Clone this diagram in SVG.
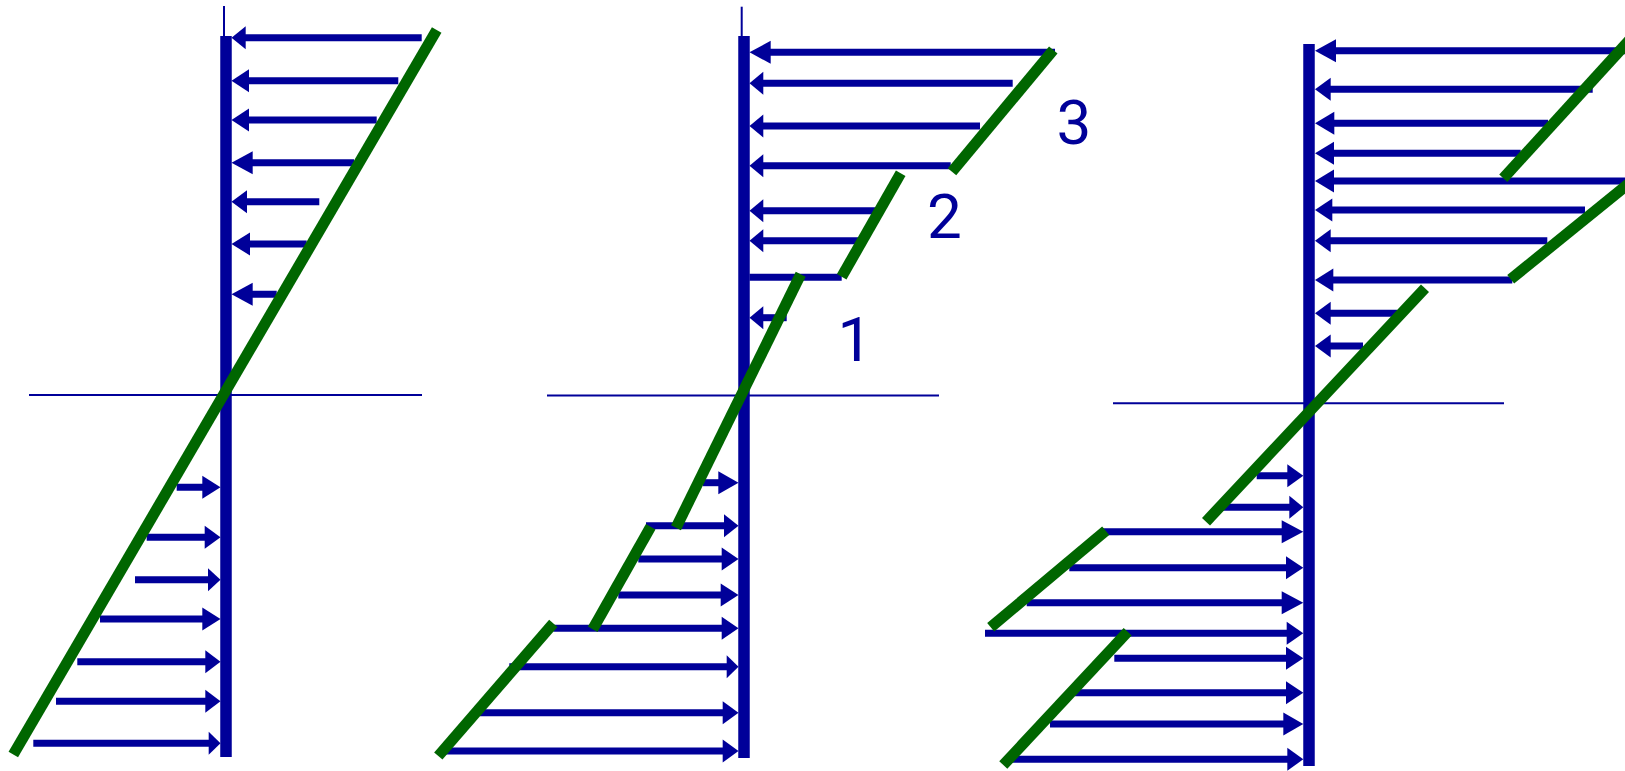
<svg xmlns="http://www.w3.org/2000/svg" width="1625" height="771" viewBox="0 0 1625 771">
<style>
.axis{stroke:#000099;stroke-width:2;fill:none}
.bar{stroke:#000099;stroke-width:11.5;fill:none}
.shaft{stroke:#000099;stroke-width:7;fill:none}
.head{fill:#000099;stroke:none}
.soil{stroke:#006600;stroke-width:11;fill:none}
.lbl{font-family:Roboto,"Open Sans",sans-serif;font-size:62px;fill:#000099;text-anchor:middle}
</style>
<rect width="1625" height="771" fill="#ffffff"/>

<g id="panel1">
  <line class="axis" x1="224" y1="6" x2="224" y2="36"/>
  <line class="axis" x1="29" y1="395" x2="422" y2="395"/>
  <line class="bar" x1="226" y1="36" x2="226" y2="757"/>
  <g id="p1-arrows">
    <line class="shaft" x1="240" y1="37.7" x2="421.7" y2="37.7"/><polygon class="head" points="231.5,37.7 245.7,26.2 245.7,49.2"/>
    <line class="shaft" x1="240" y1="80.7" x2="398.3" y2="80.7"/><polygon class="head" points="231.5,80.7 249,69.2 249,92.2"/>
    <line class="shaft" x1="240" y1="120" x2="376.7" y2="120"/><polygon class="head" points="231.5,120 249,108.5 249,131.5"/>
    <line class="shaft" x1="240" y1="162.7" x2="354" y2="162.7"/><polygon class="head" points="231.5,162.7 252.7,151.2 252.7,174.2"/>
    <line class="shaft" x1="240" y1="201.7" x2="319.3" y2="201.7"/><polygon class="head" points="231.5,201.7 247,190.2 247,213.2"/>
    <line class="shaft" x1="240" y1="244" x2="306.7" y2="244"/><polygon class="head" points="231.5,244 250,232.5 250,255.5"/>
    <line class="shaft" x1="240" y1="294.3" x2="276.7" y2="294.3"/><polygon class="head" points="231.5,294.3 252.7,282.8 252.7,305.8"/>

    <line class="shaft" x1="176.7" y1="487.3" x2="210" y2="487.3"/><polygon class="head" points="220.5,487.3 202.3,475.8 202.3,498.8"/>
    <line class="shaft" x1="146.7" y1="537.3" x2="210" y2="537.3"/><polygon class="head" points="220.5,537.3 204.7,525.8 204.7,548.8"/>
    <line class="shaft" x1="135" y1="579.7" x2="210" y2="579.7"/><polygon class="head" points="220.5,579.7 208,568.2 208,591.2"/>
    <line class="shaft" x1="100" y1="619" x2="210" y2="619"/><polygon class="head" points="220.5,619 202.3,607.5 202.3,630.5"/>
    <line class="shaft" x1="77.3" y1="661.7" x2="210" y2="661.7"/><polygon class="head" points="220.5,661.7 205.3,650.2 205.3,673.2"/>
    <line class="shaft" x1="56" y1="701.3" x2="210" y2="701.3"/><polygon class="head" points="220.5,701.3 205.3,689.8 205.3,712.8"/>
    <line class="shaft" x1="33.3" y1="743.3" x2="210" y2="743.3"/><polygon class="head" points="220.5,743.3 208.7,731.8 208.7,754.8"/>
  </g>
  <line class="soil" x1="13.3" y1="754.5" x2="436.7" y2="30"/>
</g>

<g id="panel2">
  <line class="axis" x1="741.7" y1="6.7" x2="741.7" y2="36"/>
  <line class="axis" x1="547" y1="395.5" x2="939" y2="395.5"/>
  <line class="bar" x1="744" y1="36" x2="744" y2="758"/>
  <g id="p2-arrows">
    <line class="shaft" x1="758" y1="52.3" x2="1055" y2="52.3"/><polygon class="head" points="749.5,52.3 770.7,40.8 770.7,63.8"/>
    <line class="shaft" x1="758" y1="83.3" x2="1012.7" y2="83.3"/><polygon class="head" points="749.5,83.3 763.3,71.8 763.3,94.8"/>
    <line class="shaft" x1="758" y1="126" x2="980" y2="126"/><polygon class="head" points="749.5,126 763.3,114.5 763.3,137.5"/>
    <line class="shaft" x1="758" y1="165.7" x2="950.7" y2="165.7"/><polygon class="head" points="749.5,165.7 763.3,154.2 763.3,177.2"/>
    <line class="shaft" x1="758" y1="210.7" x2="875" y2="210.7"/><polygon class="head" points="749.5,210.7 763.3,199.2 763.3,222.2"/>
    <line class="shaft" x1="758" y1="240.7" x2="859.3" y2="240.7"/><polygon class="head" points="749.5,240.7 763.3,229.2 763.3,252.2"/>
    <line class="shaft" x1="749.5" y1="277.3" x2="841.7" y2="277.3"/>
    <line class="shaft" x1="758" y1="317.7" x2="786.7" y2="317.7"/><polygon class="head" points="749.5,317.7 763.3,306.2 763.3,329.2"/>

    <line class="shaft" x1="703" y1="482.7" x2="728" y2="482.7"/><polygon class="head" points="738.5,482.7 718.3,471.2 718.3,494.2"/>
    <line class="shaft" x1="646" y1="525.7" x2="728" y2="525.7"/><polygon class="head" points="738.5,525.7 724,514.2 724,537.2"/>
    <line class="shaft" x1="638.3" y1="559" x2="728" y2="559"/><polygon class="head" points="738.5,559 721.7,547.5 721.7,570.5"/>
    <line class="shaft" x1="618.3" y1="595" x2="728" y2="595"/><polygon class="head" points="738.5,595 720.7,583.5 720.7,606.5"/>
    <line class="shaft" x1="553.3" y1="628.3" x2="728" y2="628.3"/><polygon class="head" points="738.5,628.3 721.7,616.8 721.7,639.8"/>
    <line class="shaft" x1="509.3" y1="666.7" x2="728" y2="666.7"/><polygon class="head" points="738.5,666.7 726.7,655.2 726.7,678.2"/>
    <line class="shaft" x1="480" y1="712.7" x2="728" y2="712.7"/><polygon class="head" points="738.5,712.7 722.7,701.2 722.7,724.2"/>
    <line class="shaft" x1="445" y1="751" x2="728" y2="751"/><polygon class="head" points="738.5,751 722.7,739.5 722.7,762.5"/>
  </g>
  <g id="p2-soil">
    <line class="soil" x1="438.3" y1="756" x2="553.3" y2="623.3"/>
    <line class="soil" x1="592.7" y1="629.3" x2="650.7" y2="526.7"/>
    <line class="soil" x1="676" y1="527.7" x2="800.7" y2="274.3"/>
    <line class="soil" x1="841.7" y1="276.7" x2="900.7" y2="173.3"/>
    <line class="soil" x1="952" y1="171.7" x2="1053.3" y2="50"/>
  </g>
  <g id="p2-labels">
    <text class="lbl" x="855" y="361">1</text>
    <text class="lbl" x="944.5" y="238">2</text>
    <text class="lbl" x="1074" y="144">3</text>
  </g>
</g>

<g id="panel3">
  <line class="axis" x1="1113" y1="403.3" x2="1504" y2="403.3"/>
  <line class="bar" x1="1309" y1="44" x2="1309" y2="766"/>
  <g id="p3-arrows">
    <line class="shaft" x1="1324" y1="50.7" x2="1626" y2="50.7"/><polygon class="head" points="1315,50.7 1336,39.2 1336,62.2"/>
    <line class="shaft" x1="1324" y1="89.3" x2="1592.7" y2="89.3"/><polygon class="head" points="1315,89.3 1330.7,77.8 1330.7,100.8"/>
    <line class="shaft" x1="1324" y1="123.3" x2="1548" y2="123.3"/><polygon class="head" points="1315,123.3 1334.3,111.8 1334.3,134.8"/>
    <line class="shaft" x1="1324" y1="153.3" x2="1520.7" y2="153.3"/><polygon class="head" points="1315,153.3 1334,141.8 1334,164.8"/>
    <line class="shaft" x1="1324" y1="181" x2="1626" y2="181"/><polygon class="head" points="1315,181 1334,169.5 1334,192.5"/>
    <line class="shaft" x1="1324" y1="210" x2="1585" y2="210"/><polygon class="head" points="1315,210 1332.3,198.5 1332.3,221.5"/>
    <line class="shaft" x1="1324" y1="240.7" x2="1547.3" y2="240.7"/><polygon class="head" points="1315,240.7 1330.7,229.2 1330.7,252.2"/>
    <line class="shaft" x1="1324" y1="280" x2="1512.3" y2="280"/><polygon class="head" points="1315,280 1333.3,268.5 1333.3,291.5"/>
    <line class="shaft" x1="1324" y1="313.3" x2="1397.3" y2="313.3"/><polygon class="head" points="1315,313.3 1330.7,301.8 1330.7,324.8"/>
    <line class="shaft" x1="1324" y1="346" x2="1363" y2="346"/><polygon class="head" points="1315,346 1330.7,334.5 1330.7,357.5"/>

    <line class="shaft" x1="1256.7" y1="475.7" x2="1293" y2="475.7"/><polygon class="head" points="1303.3,475.7 1287.3,464.2 1287.3,487.2"/>
    <line class="shaft" x1="1222.7" y1="507.3" x2="1293" y2="507.3"/><polygon class="head" points="1303.3,507.3 1289.3,495.8 1289.3,518.8"/>
    <line class="shaft" x1="1102.7" y1="531.7" x2="1293" y2="531.7"/><polygon class="head" points="1303.3,531.7 1281.7,520.2 1281.7,543.2"/>
    <line class="shaft" x1="1069.3" y1="567.7" x2="1293" y2="567.7"/><polygon class="head" points="1303.3,567.7 1286,556.2 1286,579.2"/>
    <line class="shaft" x1="1026.7" y1="602.7" x2="1293" y2="602.7"/><polygon class="head" points="1303.3,602.7 1281.7,591.2 1281.7,614.2"/>
    <line class="shaft" x1="985" y1="633.3" x2="1293" y2="633.3"/><polygon class="head" points="1303.3,633.3 1286.7,621.8 1286.7,644.8"/>
    <line class="shaft" x1="1114.3" y1="658.3" x2="1293" y2="658.3"/><polygon class="head" points="1303.3,658.3 1286,646.8 1286,669.8"/>
    <line class="shaft" x1="1075" y1="692.7" x2="1293" y2="692.7"/><polygon class="head" points="1303.3,692.7 1286,681.2 1286,704.2"/>
    <line class="shaft" x1="1050" y1="724" x2="1293" y2="724"/><polygon class="head" points="1303.3,724 1283.3,712.5 1283.3,735.5"/>
    <line class="shaft" x1="1010" y1="759.3" x2="1293" y2="759.3"/><polygon class="head" points="1303.3,759.3 1287.3,747.8 1287.3,770.8"/>
  </g>
  <g id="p3-soil">
    <line class="soil" x1="1503.3" y1="178.3" x2="1640" y2="28.6"/>
    <line class="soil" x1="1510.7" y1="279.3" x2="1640" y2="174.5"/>
    <line class="soil" x1="1425" y1="288.3" x2="1206" y2="521.7"/>
    <line class="soil" x1="1105.7" y1="530.7" x2="990.7" y2="627.3"/>
    <line class="soil" x1="1127.7" y1="631.7" x2="1003.3" y2="765"/>
  </g>
</g>
</svg>
